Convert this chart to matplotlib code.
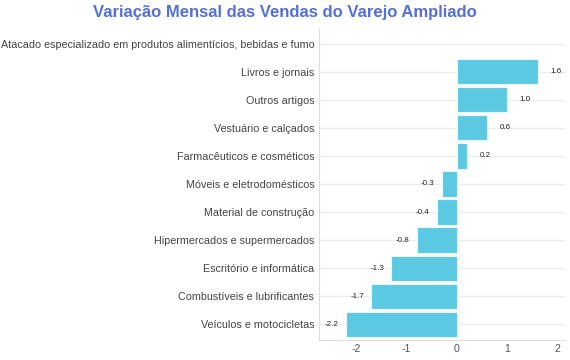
import numpy as np
import matplotlib.pyplot as plt

plt.rcParams['font.family'] = ['Liberation Sans', 'DejaVu Sans']

# Dados (de baixo para cima)
categorias = [
    'Veículos e motocicletas',
    'Combustíveis e lubrificantes',
    'Escritório e informática',
    'Hipermercados e supermercados',
    'Material de construção',
    'Móveis e eletrodomésticos',
    'Farmacêuticos e cosméticos',
    'Vestuário e calçados',
    'Outros artigos',
    'Livros e jornais',
    'Atacado especializado em produtos alimentícios, bebidas e fumo',
]
variacao = [-2.2, -1.7, -1.3, -0.8, -0.4, -0.3, 0.2, 0.6, 1.0, 1.6, np.nan]
x_ticks = [-2, -1, 0, 1, 2]

fig = plt.figure(figsize=(5.7, 3.6), dpi=100)
ax = fig.add_axes([0.56, 0.056, 0.431, 0.866])

y = np.arange(len(categorias))
ax.barh(y, variacao, height=0.9, color='#5bc9e1', edgecolor='#e8f7fb', linewidth=0.8, zorder=3)

for yi, v in zip(y, variacao):
    if np.isnan(v):
        continue
    if v >= 0:
        ax.annotate(f'{v:.1f}', (v, yi), xytext=(9, 0), textcoords='offset points',
                    ha='left', va='center', fontsize=5.8, color='#222222')
    else:
        ax.annotate(f'{v:.1f}', (v, yi), xytext=(-5, 0), textcoords='offset points',
                    ha='right', va='center', fontsize=5.8, color='#222222')

ax.set_yticks(y)
ax.set_yticklabels(categorias, fontsize=7.75, color='#444444')
ax.set_xticks(x_ticks)
ax.set_xticklabels([str(t) for t in x_ticks], fontsize=7.6, color='#555555')
ax.set_xlim(-2.73, 2.14)
ax.set_ylim(-0.55, len(categorias) - 0.45)
ax.tick_params(axis='y', length=0, pad=3.5)
ax.tick_params(axis='x', length=0, pad=3)
ax.grid(axis='y', color='#ececec', linewidth=0.9, zorder=0)
for s in ['top', 'right']:
    ax.spines[s].set_visible(False)
for s in ['left', 'bottom']:
    ax.spines[s].set_color('#dddddd')

fig.text(0.5, 0.965, 'Variação Mensal das Vendas do Varejo Ampliado', ha='center', va='center',
         fontsize=12, fontweight='bold', color='#5470d6')

fig.savefig('out.png', dpi=100)
